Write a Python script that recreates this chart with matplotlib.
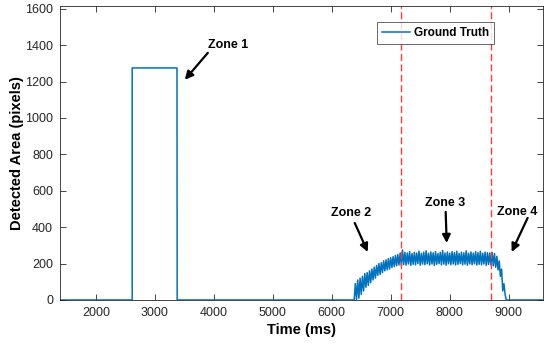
import numpy as np
import matplotlib
matplotlib.use("Agg")
import matplotlib.pyplot as plt

plt.rcParams['font.family'] = ['Liberation Sans', 'DejaVu Sans']

# baseline + zone 1 pulse (time ms, area px)
pulse_t = [1390, 2615, 2615, 3375, 3378, 6380]
pulse_v = [0, 0, 1275, 1275, 0, 0]

# zones 2-4 sampled every 20 ms from 6380 ms
zone_t0 = 6380
zone_dt = 20
zone_v = [
    0, 90, 0, 110, 10, 120, 30, 130, 50, 145,
    70, 150, 80, 160, 95, 170, 110, 180, 120, 190,
    135, 200, 140, 205, 150, 215, 160, 220, 165, 228,
    170, 232, 178, 238, 183, 245, 188, 250, 192, 258,
    190, 275, 195, 262, 192, 258, 198, 266, 190, 255,
    196, 262, 193, 258, 200, 268, 191, 256, 197, 263,
    194, 270, 199, 257, 192, 264, 198, 259, 190, 266,
    196, 255, 200, 262, 193, 272, 197, 258, 191, 264,
    199, 257, 194, 266, 198, 260, 192, 268, 196, 256,
    200, 263, 193, 259, 197, 270, 191, 257, 198, 264,
    194, 258, 199, 266, 192, 260, 196, 268, 193, 257,
    198, 263, 190, 260, 195, 258, 192, 262, 188, 255,
    180, 240, 165, 215, 130, 170, 50, 90, 30, 0,
]
tail_t = [8960, 9580]
tail_v = [0, 0]

dashed_x = [7180, 8705]

annotations = [
    ("Zone 1", (3508, 1210), (4237, 1402), (3898, 1358)),
    ("Zone 2", (6610, 264), (6322, 478), (6390, 423)),
    ("Zone 3", (7949, 313), (7915, 533), (7932, 484)),
    ("Zone 4", (9051, 264), (9153, 484), (9322, 451)),
]

zone_t = zone_t0 + zone_dt * np.arange(len(zone_v))
t = np.concatenate([pulse_t, zone_t, tail_t])
v = np.concatenate([pulse_v, zone_v, tail_v])

fig = plt.figure(figsize=(5.5, 3.46), dpi=100)
ax = fig.add_axes([0.109, 0.133, 0.878, 0.850])

ax.plot(t, v, color='#0072BD', lw=1.1, label='Ground Truth')
for x in dashed_x:
    ax.axvline(x, color='#ff3a3a', ls=(0, (5, 2.5)), lw=1.0)

for text, tip, txt_pos, tail in annotations:
    ax.annotate('', xy=tip, xytext=tail,
                arrowprops=dict(arrowstyle='-|>', color='black', lw=1.6,
                                mutation_scale=12, shrinkA=0, shrinkB=0))
    ax.text(txt_pos[0], txt_pos[1], text, ha='center', va='center',
            fontsize=9, fontweight='bold')

ax.set_xlim(1390, 9580)
ax.set_ylim(0, 1616)
ax.set_xticks(range(2000, 9001, 1000))
ax.set_yticks(range(0, 1601, 200))
ax.tick_params(direction='in', top=True, right=True, labelsize=9,
               colors='#262626', length=4, width=0.6, pad=5)
for s in ax.spines.values():
    s.set_color('#262626')
    s.set_linewidth(0.6)

ax.set_xlabel('Time (ms)', fontsize=10.5, fontweight='bold', labelpad=3)
ax.set_ylabel('Detected Area (pixels)', fontsize=10.5, fontweight='bold', labelpad=1)

leg = ax.legend(loc='center', bbox_to_anchor=(0.7775, 0.908),
                prop={'weight': 'bold', 'size': 8.5}, fancybox=False,
                handlelength=2.4, handletextpad=0.3, borderpad=0.45)
leg.get_frame().set_edgecolor('#262626')
leg.get_frame().set_linewidth(0.6)

fig.savefig('out.png', dpi=100)
